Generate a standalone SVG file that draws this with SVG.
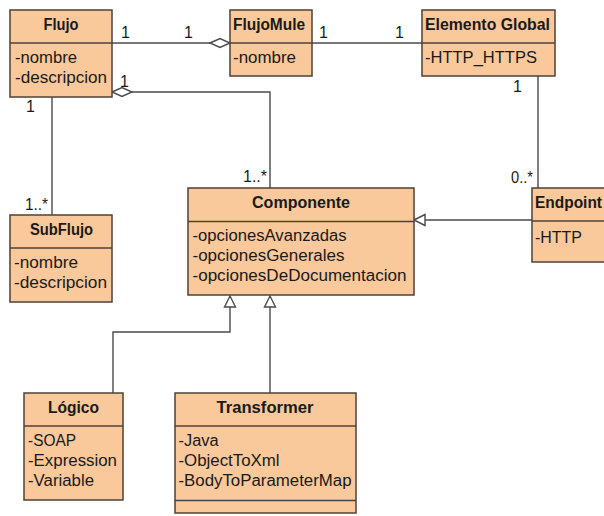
<svg xmlns="http://www.w3.org/2000/svg" width="604" height="516" viewBox="0 0 604 516">
<style>
.box{fill:#F9C89B;stroke:#4f4238;stroke-width:1.5}
.div{stroke:#4f4238;stroke-width:1.5}
.t{font-family:"Liberation Sans",Arial,sans-serif;font-size:16px;font-weight:bold;fill:#1a1a1a;text-anchor:middle}
.a{font-family:"Liberation Sans",Arial,sans-serif;font-size:16px;fill:#1a1a1a}
.m{font-family:"Liberation Sans",Arial,sans-serif;font-size:16px;fill:#1a1a1a}
.ln{fill:none;stroke:#4a4a4a;stroke-width:1.4}
.hd{fill:#ffffff;stroke:#4a4a4a;stroke-width:1.4}
</style>
<rect width="604" height="516" fill="#ffffff"/>
<g id="connectors">
<line class="ln" x1="112" y1="43" x2="210" y2="43"/>
<polygon class="hd" points="210,43 220,38.5 230,43 220,47.5"/>
<line class="ln" x1="312" y1="43" x2="422" y2="43"/>
<polyline class="ln" points="132,92 270,92 270,188"/>
<polygon class="hd" points="112,92 122,87.5 132,92 122,96.5"/>
<line class="ln" x1="52" y1="97" x2="52" y2="215"/>
<line class="ln" x1="538" y1="76" x2="538" y2="188"/>
<line class="ln" x1="425" y1="220" x2="532" y2="220"/>
<polygon class="hd" points="414,220 425,214.5 425,225.5"/>
<polyline class="ln" points="230,307 230,332 113,332 113,393"/>
<polygon class="hd" points="230,296 224.5,307 235.5,307"/>
<line class="ln" x1="270" y1="307" x2="270" y2="393"/>
<polygon class="hd" points="270,296 264.5,307 275.5,307"/>
<text class="m" x="121" y="38">1</text>
<text class="m" x="184" y="38">1</text>
<text class="m" x="319" y="38">1</text>
<text class="m" x="395" y="38">1</text>
<text class="m" x="513" y="92">1</text>
<text class="m" x="511" y="183" textLength="22" lengthAdjust="spacingAndGlyphs">0..*</text>
<text class="m" x="120" y="87">1</text>
<text class="m" x="26" y="112">1</text>
<text class="m" x="25" y="210" textLength="23" lengthAdjust="spacingAndGlyphs">1..*</text>
<text class="m" x="243" y="182" textLength="24" lengthAdjust="spacingAndGlyphs">1..*</text>
</g>
<g id="Flujo">
<rect class="box" x="10" y="10" width="102" height="87"/>
<line class="div" x1="10" y1="43" x2="112" y2="43"/>
<text class="t" x="61" y="30" textLength="35" lengthAdjust="spacingAndGlyphs">Flujo</text>
<text class="a" x="15" y="63" textLength="62" lengthAdjust="spacingAndGlyphs">-nombre</text>
<text class="a" x="15" y="83" textLength="92" lengthAdjust="spacingAndGlyphs">-descripcion</text>
</g>
<g id="FlujoMule">
<rect class="box" x="230" y="10" width="82" height="66"/>
<line class="div" x1="230" y1="43" x2="312" y2="43"/>
<text class="t" x="269" y="30" textLength="72" lengthAdjust="spacingAndGlyphs">FlujoMule</text>
<text class="a" x="233" y="63" textLength="63" lengthAdjust="spacingAndGlyphs">-nombre</text>
</g>
<g id="ElementoGlobal">
<rect class="box" x="422" y="10" width="133" height="66"/>
<line class="div" x1="422" y1="43" x2="555" y2="43"/>
<text class="t" x="487.5" y="30" textLength="125" lengthAdjust="spacingAndGlyphs">Elemento Global</text>
<text class="a" x="425" y="63" textLength="112" lengthAdjust="spacingAndGlyphs">-HTTP_HTTPS</text>
</g>
<g id="Endpoint">
<rect class="box" x="532" y="188" width="90" height="74"/>
<line class="div" x1="532" y1="221" x2="622" y2="221"/>
<text class="a" x="535" y="208" font-weight="bold" textLength="67" lengthAdjust="spacingAndGlyphs">Endpoint</text>
<text class="a" x="535" y="243" textLength="47" lengthAdjust="spacingAndGlyphs">-HTTP</text>
</g>
<g id="Componente">
<rect class="box" x="188" y="188" width="226" height="107"/>
<line class="div" x1="188" y1="221.5" x2="414" y2="221.5"/>
<text class="t" x="301" y="208" textLength="98" lengthAdjust="spacingAndGlyphs">Componente</text>
<text class="a" x="192.5" y="241" textLength="154" lengthAdjust="spacingAndGlyphs">-opcionesAvanzadas</text>
<text class="a" x="192.5" y="261" textLength="152" lengthAdjust="spacingAndGlyphs">-opcionesGenerales</text>
<text class="a" x="192.5" y="281" textLength="214" lengthAdjust="spacingAndGlyphs">-opcionesDeDocumentacion</text>
</g>
<g id="SubFlujo">
<rect class="box" x="10" y="215" width="102" height="87"/>
<line class="div" x1="10" y1="248" x2="112" y2="248"/>
<text class="t" x="61.5" y="235" textLength="63" lengthAdjust="spacingAndGlyphs">SubFlujo</text>
<text class="a" x="14" y="268" textLength="64" lengthAdjust="spacingAndGlyphs">-nombre</text>
<text class="a" x="14" y="288" textLength="93" lengthAdjust="spacingAndGlyphs">-descripcion</text>
</g>
<g id="Logico">
<rect class="box" x="24" y="393" width="99" height="107"/>
<line class="div" x1="24" y1="426" x2="123" y2="426"/>
<text class="t" x="73.5" y="413" textLength="51" lengthAdjust="spacingAndGlyphs">Lógico</text>
<text class="a" x="28" y="446" textLength="48" lengthAdjust="spacingAndGlyphs">-SOAP</text>
<text class="a" x="28" y="466" textLength="89" lengthAdjust="spacingAndGlyphs">-Expression</text>
<text class="a" x="28" y="486" textLength="66" lengthAdjust="spacingAndGlyphs">-Variable</text>
</g>
<g id="Transformer">
<rect class="box" x="175" y="393" width="181" height="120"/>
<line class="div" x1="175" y1="426" x2="356" y2="426"/>
<line class="div" x1="175" y1="500.5" x2="356" y2="500.5"/>
<text class="t" x="265" y="413" textLength="97" lengthAdjust="spacingAndGlyphs">Transformer</text>
<text class="a" x="178.5" y="446" textLength="40" lengthAdjust="spacingAndGlyphs">-Java</text>
<text class="a" x="178.5" y="466" textLength="101" lengthAdjust="spacingAndGlyphs">-ObjectToXml</text>
<text class="a" x="178.5" y="486" textLength="173" lengthAdjust="spacingAndGlyphs">-BodyToParameterMap</text>
</g>
</svg>
